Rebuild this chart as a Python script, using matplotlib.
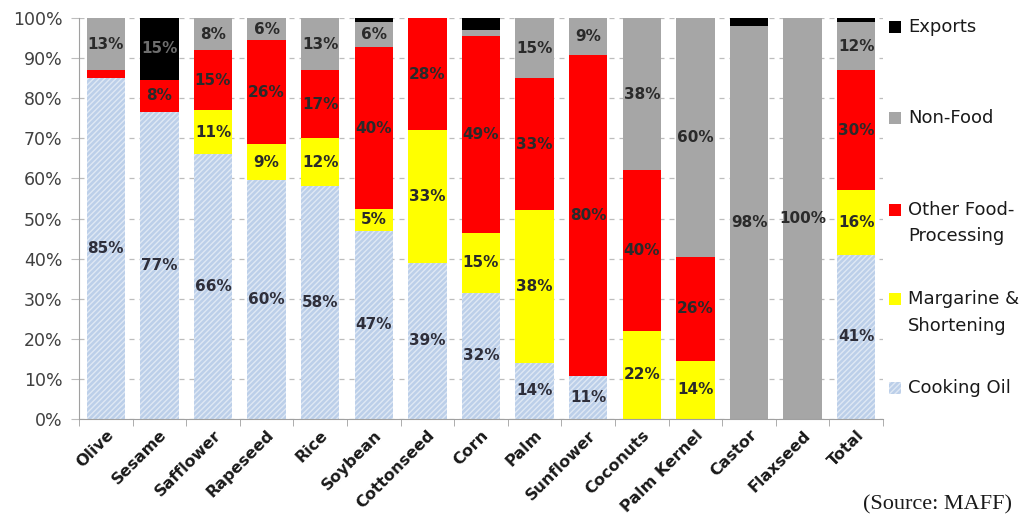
import matplotlib
matplotlib.use("Agg")
import matplotlib.pyplot as plt
from matplotlib.patches import Rectangle
import numpy as np

categories = ["Olive", "Sesame", "Safflower", "Rapeseed", "Rice", "Soybean", "Cottonseed",
              "Corn", "Palm", "Sunflower", "Coconuts", "Palm Kernel", "Castor", "Flaxseed", "Total"]

cooking_oil = [85, 76.6, 66, 59.5, 58, 47, 39, 31.5, 14, 10.7, 0, 0, 0, 0, 41]
margarine   = [0, 0, 11, 9, 12, 5.3, 33, 15, 38, 0, 22, 14.5, 0, 0, 16]
other_food  = [2, 8, 15, 26, 17, 40.4, 28, 49, 33, 80, 40, 26, 0, 0, 30]
non_food    = [13, 0, 8, 5.5, 13, 6.3, 0, 1.5, 15, 9.3, 38, 59.5, 98, 100, 12]
exports     = [0, 15.4, 0, 0, 0, 1, 0, 3, 0, 0, 0, 0, 2, 0, 1]

series_names = ["Cooking Oil", "Margarine &\nShortening", "Other Food-\nProcessing", "Non-Food", "Exports"]
series_values = [cooking_oil, margarine, other_food, non_food, exports]
series_colors = ["#bccfe9", "#ffff00", "#ff0000", "#a6a6a6", "#000000"]
label_colors = ["#2e2e3a", "#2a2a2a", "#2a2a2a", "#2a2a2a", "#6e6e6e"]
HATCH_COLOR = "#dfe8f4"

W, H = 1033, 518
fig = plt.figure(figsize=(W / 100, H / 100), dpi=100)
ax = fig.add_axes([79 / W, 1 - 419 / H, (883 - 79) / W, (419 - 18) / H])

x = np.arange(len(categories))
width = 0.72
bottom = np.zeros(len(categories))
for name, vals, col, lc in zip(series_names, series_values, series_colors, label_colors):
    vals = np.array(vals, dtype=float)
    if name == "Cooking Oil":
        ax.bar(x, vals, width, bottom=bottom, color=col, edgecolor=HATCH_COLOR,
               linewidth=0, hatch="//////", zorder=2)
    else:
        ax.bar(x, vals, width, bottom=bottom, color=col, linewidth=0, zorder=2)
    for xi, v, b in zip(x, vals, bottom):
        if v >= 4:
            ax.text(xi, b + v / 2, f"{int(round(v))}%", ha="center", va="center",
                    fontsize=11, fontweight="bold", color=lc, zorder=3)
    bottom += vals

ax.set_xlim(-0.5, len(categories) - 0.5)
ax.set_ylim(0, 100)
ax.set_yticks(np.arange(0, 101, 10))
ax.set_yticklabels([f"{v}%" for v in range(0, 101, 10)], fontsize=12.5, color="#404040")
ax.yaxis.grid(True, linestyle=(0, (4, 4)), color="#bdbdbd", linewidth=0.9, zorder=0)
ax.set_axisbelow(True)

ax.set_xticks(x)
ax.set_xticklabels(categories, rotation=45, ha="right", rotation_mode="anchor",
                   fontsize=11.5, fontweight="bold", color="#1a1a1a")
ax.tick_params(axis="x", length=0, pad=6)
ax.set_xticks(np.arange(-0.5, len(categories), 1), minor=True)
ax.tick_params(axis="x", which="minor", length=5, color="#a0a0a0", direction="out")
ax.tick_params(axis="y", length=6, color="#bdbdbd", pad=6)

for s in ["top", "right"]:
    ax.spines[s].set_visible(False)
for s in ["left", "bottom"]:
    ax.spines[s].set_color("#a0a0a0")

# legend (drawn manually, Excel-like: marker aligned with first line)
legend_rows = {"Exports": [27], "Non-Food": [118], "Other Food-\nProcessing": [210, 236],
               "Margarine &\nShortening": [299, 326], "Cooking Oil": [388]}
for name, col in zip(series_names, series_colors):
    ys = legend_rows[name]
    sq = 12
    kw = dict(facecolor=col, linewidth=0, transform=fig.transFigure, figure=fig)
    if name == "Cooking Oil":
        kw.update(edgecolor=HATCH_COLOR, hatch="//////")
    fig.patches.append(Rectangle((889 / W, 1 - (ys[0] + sq / 2) / H), sq / W, sq / H, **kw))
    for line, yy in zip(name.split("\n"), ys):
        fig.text(908 / W, 1 - yy / H, line, ha="left", va="center", fontsize=13, color="#1a1a1a")

fig.text(1012 / W, 1 - 505 / H, "(Source: MAFF)", ha="right", va="center",
         fontsize=16, family="Liberation Serif", color="#1a1a1a")

fig.savefig("out.png", dpi=100)
